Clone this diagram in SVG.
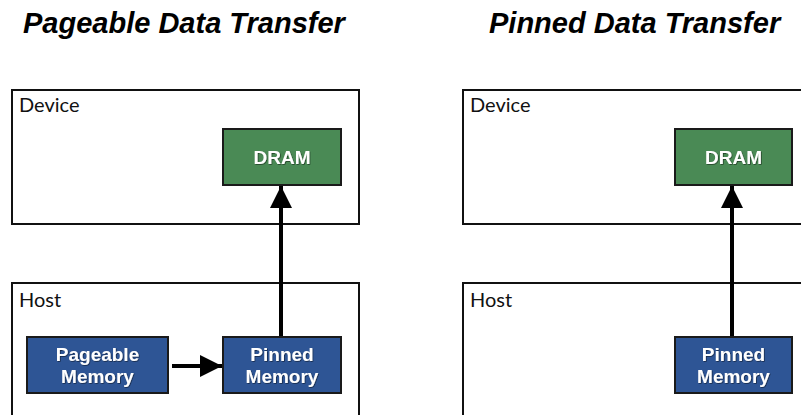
<svg xmlns="http://www.w3.org/2000/svg" width="801" height="415" viewBox="0 0 801 415">
<style>
.title{font-family:"Liberation Sans",Arial,sans-serif;font-weight:bold;font-style:italic;font-size:29px;fill:#000}
.region{fill:none;stroke:#111;stroke-width:2}
.rlabel{font-family:Lato,"Open Sans",sans-serif;font-size:20px;fill:#111}
.green{fill:#4a8a55;stroke:#1a1a1a;stroke-width:2}
.blue{fill:#2e5595;stroke:#1a1a1a;stroke-width:2}
.btxt{font-family:"Liberation Sans",Arial,sans-serif;font-weight:bold;font-size:19px;fill:#fff;text-anchor:middle;filter:url(#sh)}
.conn{stroke:#000;stroke-width:4;fill:none;marker-end:url(#ah)}
</style>
<defs>
<marker id="ah" viewBox="0 0 10 10" refX="10" refY="5" markerWidth="5.5" markerHeight="5.5" markerUnits="strokeWidth" orient="auto">
<path d="M0,0 L10,5 L0,10 z" fill="#000"/>
</marker>
<filter id="sh" x="-10%" y="-10%" width="120%" height="130%">
<feDropShadow dx="0.7" dy="0.7" stdDeviation="0.5" flood-color="#000" flood-opacity="0.6"/>
</filter>
</defs>
<rect width="801" height="415" fill="#fff"/>
<text class="title" x="23" y="33">Pageable Data Transfer</text>
<text class="title" x="489" y="33">Pinned Data Transfer</text>

<g id="left-device">
<rect class="region" x="12" y="90" width="347" height="134"/>
<text class="rlabel" x="19" y="112">Device</text>
</g>
<g id="left-host">
<rect class="region" x="12" y="283" width="347" height="140"/>
<text class="rlabel" x="19" y="307">Host</text>
</g>
<g id="left-dram">
<rect class="green" x="223" y="129" width="118" height="56"/>
<text class="btxt" x="282" y="164">DRAM</text>
</g>
<g id="left-pageable">
<rect class="blue" x="27" y="337" width="141" height="56"/>
<text class="btxt" x="97.5" y="361">Pageable</text>
<text class="btxt" x="97.5" y="383">Memory</text>
</g>
<g id="left-pinned">
<rect class="blue" x="223" y="337" width="118" height="56"/>
<text class="btxt" x="282" y="361">Pinned</text>
<text class="btxt" x="282" y="383">Memory</text>
</g>

<g id="right-device">
<rect class="region" x="463" y="90" width="350" height="134"/>
<text class="rlabel" x="470" y="112">Device</text>
</g>
<g id="right-host">
<rect class="region" x="463" y="283" width="350" height="140"/>
<text class="rlabel" x="470" y="307">Host</text>
</g>
<g id="right-dram">
<rect class="green" x="675" y="129" width="117" height="56"/>
<text class="btxt" x="733.5" y="164">DRAM</text>
</g>
<g id="right-pinned">
<rect class="blue" x="675" y="337" width="117" height="56"/>
<text class="btxt" x="733.5" y="361">Pinned</text>
<text class="btxt" x="733.5" y="383">Memory</text>
</g>

<g id="connectors">
<path class="conn" d="M172,366 H222"/>
<path class="conn" d="M281,336 V186"/>
<path class="conn" d="M732,336 V186"/>
</g>
</svg>
